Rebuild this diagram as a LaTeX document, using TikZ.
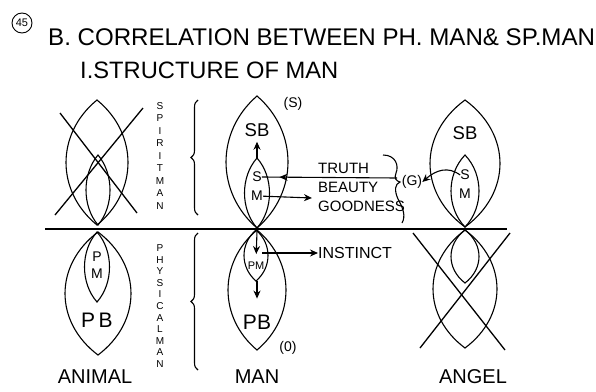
\documentclass[tikz,border=0pt]{standalone}
\usepackage{fontspec}
\setmainfont{Liberation Sans}
\usetikzlibrary{arrows.meta,positioning,calc,decorations.pathreplacing,decorations.markings}
\tikzset{
  lens style/.style={draw, line width=1.1pt},
  cross style/.style={line width=1.3pt},
  lbl style/.style={inner sep=0pt, font=\fontsize{18.5}{18.5}\selectfont},
  sm style/.style={inner sep=0pt, font=\fontsize{14}{14}\selectfont},
  big style/.style={inner sep=0pt, font=\fontsize{20}{20}\selectfont},
  tbg style/.style={inner sep=0pt, anchor=west, font=\fontsize{15}{15}\selectfont},
  arr style/.style={-{Stealth[length=8pt,width=7pt]}, line width=1.1pt},
  mid arr style/.style={line width=1.1pt, postaction={decorate},
    decoration={markings, mark=at position #1 with {\arrow{Stealth[length=8pt,width=7pt]}}}},
  brace style/.style={decorate, decoration={brace, amplitude=7pt}, line width=1.1pt},
  vtext style/.style={inner sep=0pt, align=center, font=\fontsize{10}{12}\selectfont}
}
% x, top y, bottom y, half width
\newcommand{\lens}[4]{%
  \draw[lens style] (#1,#2) .. controls ({#1-1.333*#4},{#2+0.27*(#3-#2)}) and ({#1-1.333*#4},{#3-0.27*(#3-#2)}) .. (#1,#3)
    .. controls ({#1+1.333*#4},{#3-0.27*(#3-#2)}) and ({#1+1.333*#4},{#2+0.27*(#3-#2)}) .. cycle;}

\begin{document}
\begin{tikzpicture}[x=1pt,y=-1pt]
\useasboundingbox (0,0) rectangle (596,391);
% heading
\node[circle, draw, line width=0.9pt, minimum size=20pt, inner sep=0pt, font=\fontsize{11}{11}\selectfont] (num) at (22,23) {45};
\node[anchor=base west, inner sep=0pt, font=\fontsize{24.1}{24}\selectfont] (title) at (48,45) {B. CORRELATION BETWEEN PH. MAN\& SP.MAN};
\node[anchor=base west, inner sep=0pt, font=\fontsize{23.7}{24}\selectfont] (sub) at (80,78) {I.STRUCTURE OF MAN};

% dividing line
\coordinate (ll) at (45,229);
\coordinate (lr) at (507,229);
\draw[line width=1.5pt] (ll) -- (lr);

% animal
\lens{97}{100}{225}{31}
\lens{98}{155}{225}{12}
\draw[cross style] (60,113) -- (137,213);
\draw[cross style] (143,108) -- (55,215);
\lens{98}{232}{355}{33}
\lens{97}{232}{302}{12.5}
\node[sm style] (ap) at (97,257) {P};
\node[sm style, below=7pt of ap] (am) {M};
\node[big style, font=\fontsize{21}{21}\selectfont] (apb) at (97,320) {P\,B};
\node[big style] (animal) at (95,377) {ANIMAL};

% spirit / physical
\node[vtext style, font=\fontsize{10}{12.5}\selectfont] (spirit) at (160,156) {S\\P\\I\\R\\I\\T\\M\\A\\N};
\node[vtext style, font=\fontsize{10}{11.6}\selectfont] (physical) at (160,306) {P\\H\\Y\\S\\I\\C\\A\\L\\M\\A\\N};
\coordinate (ub1) at (198,215);
\coordinate (ub2) at (198,100);
\coordinate (lb1) at (198,370);
\coordinate (lb2) at (198,233);
\draw[brace style] (ub1) -- (ub2);
\draw[brace style] (lb1) -- (lb2);

% man
\lens{257}{96}{228}{31}
\lens{257}{158}{228}{12.5}
\lens{257}{230}{350}{29}
\lens{256}{230}{281}{12}
\coordinate (mtop) at (257,158);
\coordinate (mmid) at (257,231);
\coordinate (mpmb) at (257,281);
\node[lbl style] (msb) at (257,130) {SB};
\node[sm style] (ms) at (257,177) {S};
\node[sm style, below=9pt of ms] (mm) {M};
\node[inner sep=0pt, font=\fontsize{11}{11}\selectfont] (mpm) at (256,266) {PM};
\node[big style, font=\fontsize{21}{21}\selectfont] (mpb) at (257,322) {PB};
\node[sm style] (sp) at (293,104) {(S)};
\node[sm style] (op) at (288,348) {(0)};
\node[big style] (man) at (257,377) {MAN};
\draw[arr style, shorten >=5pt] (mtop) -- (msb.south);
\draw[arr style, shorten >=8pt] (mmid) -- (mpm.north);
\draw[arr style, shorten >=16pt] (mpmb) -- (mpb.north);

% truth / beauty / goodness
\node[tbg style] (truth) at (318,168) {TRUTH};
\node[tbg style, below=8.5pt of truth.south west, anchor=north west] (beauty) {BEAUTY};
\node[tbg style, below=8.5pt of beauty.south west, anchor=north west] (goodness) {GOODNESS};
\node[sm style] (g) at (412,182) {(G)};
\coordinate (gb) at (397,178);
\draw[line width=1.1pt] (383,155) .. controls (396,155) and (399,166) .. (396,173)
  .. controls (394,178) and (396,181) .. (400,182)
  .. controls (395,184) and (394,190) .. (398,199)
  .. controls (403,208) and (406,216) .. (402,223);
\draw[mid arr style=0.87] (gb) -- (ms.east);
\coordinate (mgo) at (312,198);
\draw[arr style] (mm.east) -- (mgo);
\node[tbg style, font=\fontsize{16}{16}\selectfont] (instinct) at (318,253) {INSTINCT};
\coordinate (mins) at (262,253);
\draw[arr style] (mins) -- (instinct.west);

% angel
\lens{465}{100}{227}{35}
\lens{465}{155}{227}{14}
\lens{465}{230}{348}{32}
\lens{465}{230}{283}{14}
\draw[cross style] (413,233) -- (505,350);
\draw[cross style] (510,233) -- (420,348);
\node[lbl style] (asb) at (465,133) {SB};
\node[sm style] (as) at (465,175) {S};
\node[sm style, below=9pt of as] (am2) {M};
\node[big style] (angel) at (473,377) {ANGEL};
\draw[arr style] (as.west) .. controls (448,166) and (436,170) .. (g.east);
\end{tikzpicture}
\end{document}
